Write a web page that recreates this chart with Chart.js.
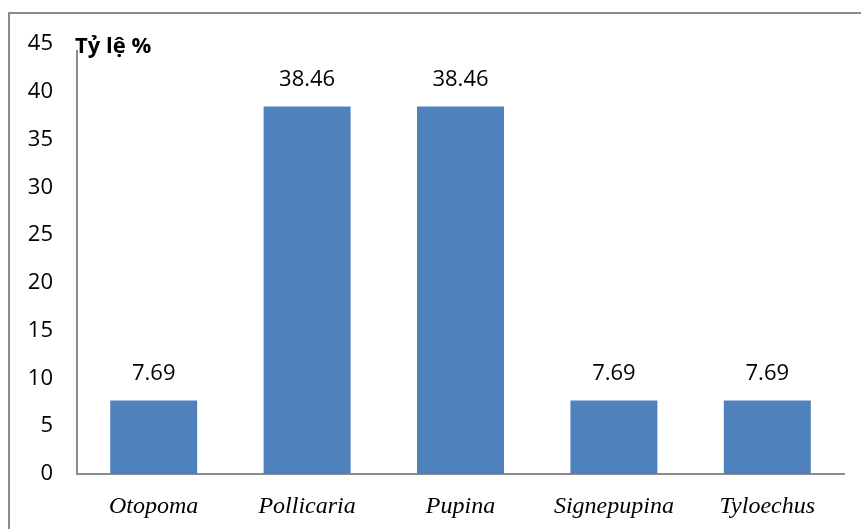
<!DOCTYPE html>
<html>
<head>
<meta charset="utf-8">
<script src="https://cdn.jsdelivr.net/npm/chart.js@4.4.1/dist/chart.umd.min.js"></script>
<style>
  html, body { margin: 0; padding: 0; background: #fff; }
  #wrap { position: relative; width: 861px; height: 529px; }
</style>
</head>
<body>
<div id="wrap"><canvas id="c" width="861" height="529"></canvas></div>
<script>
// Genus share of species (%)
const genera = ['Otopoma', 'Pollicaria', 'Pupina', 'Signepupina', 'Tyloechus'];
const percentages = [7.69, 38.46, 38.46, 7.69, 7.69];
const yTickValues = [0, 5, 10, 15, 20, 25, 30, 35, 40, 45];
const axisTitle = 'Tỷ lệ %';

const sansFont = "'Open Sans', 'Liberation Sans', sans-serif";
const serifFont = "'Liberation Serif', 'DejaVu Serif', serif";

// Outer frame plus the unit caption at the top of the value axis
const decorations = {
  id: 'decorations',
  afterDraw(chart) {
    const ctx = chart.ctx;
    const area = chart.chartArea;
    ctx.save();
    ctx.strokeStyle = '#8c8c8c';
    ctx.lineWidth = 2;
    ctx.strokeRect(9, 13, 900, 600);
    ctx.font = "bold 22px " + sansFont;
    ctx.textBaseline = 'middle';
    ctx.textAlign = 'left';
    const w = ctx.measureText(axisTitle).width;
    ctx.fillStyle = '#fff';
    ctx.fillRect(area.left - 2, area.top - 8, w + 4, 14);
    ctx.fillStyle = '#000';
    ctx.fillText(axisTitle, area.left - 2, area.top + 3);
    ctx.restore();
  }
};

// Value labels above each bar
const barLabels = {
  id: 'barLabels',
  afterDatasetsDraw(chart) {
    const ctx = chart.ctx;
    const meta = chart.getDatasetMeta(0);
    ctx.save();
    ctx.font = "22px " + sansFont;
    ctx.fillStyle = '#000';
    ctx.textAlign = 'center';
    ctx.textBaseline = 'middle';
    meta.data.forEach((bar, i) => {
      ctx.fillText(percentages[i].toFixed(2), bar.x, bar.y - 27);
    });
    ctx.restore();
  }
};

new Chart(document.getElementById('c'), {
  type: 'bar',
  data: {
    labels: genera,
    datasets: [{
      data: percentages,
      backgroundColor: '#4f81bd',
      borderWidth: 0,
      barPercentage: 0.567,
      categoryPercentage: 1.0
    }]
  },
  options: {
    responsive: false,
    animation: false,
    layout: { padding: { left: 0, right: 17, top: 44, bottom: 0 } },
    plugins: { legend: { display: false }, tooltip: { enabled: false } },
    scales: {
      x: {
        grid: { display: false },
        border: { display: true, color: '#8c8c8c', width: 2 },
        ticks: { color: '#000', font: { family: serifFont, size: 24, style: 'italic' }, padding: 10 },
        afterFit(scale) { scale.height = 55; }
      },
      y: {
        min: 0,
        max: 45,
        afterBuildTicks(scale) { scale.ticks = yTickValues.map(v => ({ value: v })); },
        grid: { display: false },
        border: { display: true, color: '#8c8c8c', width: 2 },
        ticks: { color: '#000', font: { family: sansFont, size: 22 }, padding: 16 },
        afterFit(scale) { scale.width = 77; }
      }
    }
  },
  plugins: [decorations, barLabels]
});
</script>
</body>
</html>
